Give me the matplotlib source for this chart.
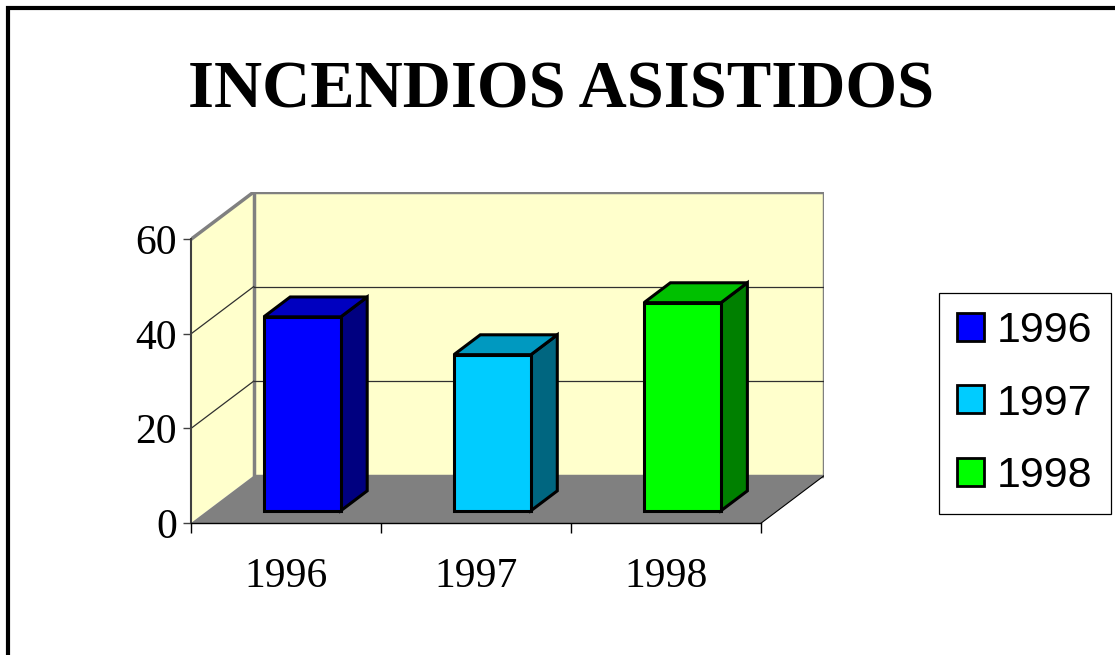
import matplotlib
matplotlib.use("Agg")
import matplotlib.pyplot as plt
from matplotlib.patches import Polygon, Rectangle, Patch

# data
years = ["1996", "1997", "1998"]
values = [41, 33, 44]
front_colors = ["#0000FF", "#00CCFF", "#00FF00"]
side_colors = ["#000080", "#006680", "#008000"]
top_colors = ["#0000C0", "#0099C0", "#00C000"]
yticks = [0, 20, 40, 60]
title = "INCENDIOS ASISTIDOS"

# oblique depth of the 3d box (data units) and bar placement
DX, DY = 0.33, 10
YMAX = 60
BAR_W = 0.405
D0, D1 = 0.26, 0.68
WALL = "#FFFFCC"
FLOOR = "#808080"

fig = plt.figure(figsize=(11.15, 6.55), dpi=100)
ax = fig.add_axes([191 / 1115, (655 - 523) / 655, (824 - 191) / 1115, (523 - 192) / 655])
n = len(years)
ax.set_xlim(0, n + DX)
ax.set_ylim(0, YMAX + DY)
ax.patch.set_visible(False)

# walls and floor
ax.add_patch(Polygon([(0, 0), (DX, DY), (DX, YMAX + DY), (0, YMAX)], closed=True,
                     fc=WALL, ec="none", zorder=1))
ax.add_patch(Rectangle((DX, DY), n, YMAX, fc=WALL, ec="#808080", lw=2.5, zorder=1))
ax.plot([0, DX], [YMAX, YMAX + DY], color="#808080", lw=2.5, zorder=2,
        solid_capstyle="projecting")
ax.add_patch(Polygon([(0, 0), (n, 0), (n + DX, DY), (DX, DY)], closed=True,
                     fc=FLOOR, ec="none", zorder=2))
ax.plot([n, n + DX], [0, DY], color="black", lw=0.8, zorder=2)

# gridlines on back and side wall
for t in yticks[1:-1]:
    ax.plot([DX, n + DX], [t + DY, t + DY], color="#303030", lw=0.9, zorder=1.5)
    ax.plot([0, DX], [t, t + DY], color="#303030", lw=0.9, zorder=1.5)

# 3d bars
ddx, ddy = (D1 - D0) * DX, (D1 - D0) * DY
for i, v in enumerate(values):
    x0 = i + 0.5 - BAR_W / 2 + D0 * DX
    x1 = x0 + BAR_W
    y0 = D0 * DY
    kw = dict(closed=True, ec="black", lw=2.2, joinstyle="miter", zorder=5)
    ax.add_patch(Polygon([(x1, y0), (x1 + ddx, y0 + ddy), (x1 + ddx, y0 + ddy + v),
                          (x1, y0 + v)], fc=side_colors[i], **kw))
    ax.add_patch(Polygon([(x0, y0 + v), (x1, y0 + v), (x1 + ddx, y0 + v + ddy),
                          (x0 + ddx, y0 + v + ddy)], fc=top_colors[i], **kw))
    ax.add_patch(Polygon([(x0, y0), (x1, y0), (x1, y0 + v), (x0, y0 + v)],
                         fc=front_colors[i], **kw))

# axes, ticks, labels
for s in ["top", "right"]:
    ax.spines[s].set_visible(False)
ax.spines["left"].set_bounds(0, YMAX)
ax.spines["left"].set_color("#404040")
ax.spines["left"].set_linewidth(1.5)
ax.spines["left"].set_zorder(3)
ax.spines["bottom"].set_bounds(0, n)
ax.spines["bottom"].set_linewidth(1.0)
ax.spines["bottom"].set_zorder(3)

serif = "Liberation Serif"
ax.set_yticks(yticks)
ax.set_yticklabels([str(t) for t in yticks], fontsize=30, family=serif)
ax.tick_params(axis="y", length=6, width=1, pad=4, color="#404040")
ax.set_xticks(range(n + 1))
ax.set_xticklabels([])
ax.tick_params(axis="x", which="major", length=7.5, width=1)
ax.set_xticks([i + 0.5 for i in range(n)], minor=True)
ax.set_xticklabels(years, minor=True, fontsize=30, family=serif)
ax.tick_params(axis="x", which="minor", length=0, pad=25)

fig.text(0.503, 1 - 108 / 655, title, ha="center", va="baseline",
         fontsize=48, fontweight="bold", family=serif)

handles = [Patch(fc=c, ec="black", lw=2) for c in front_colors]
leg = fig.legend(handles, years, loc="center", bbox_to_anchor=(1025 / 1115, 1 - 403.5 / 655),
                 prop={"family": "Liberation Sans", "size": 31},
                 handlelength=0.62, handleheight=0.62, handletextpad=0.3,
                 labelspacing=0.76, borderpad=0.42, fancybox=False, framealpha=1,
                 edgecolor="black")
leg.get_frame().set_linewidth(0.9)

# outer border (only top and left edge visible in picture)
fig.add_artist(Rectangle((8 / 1115, -0.5), 2, 0.5 + 1 - 8 / 655, fill=False,
                         ec="black", lw=3, transform=fig.transFigure))

fig.savefig("out.png", dpi=100)
